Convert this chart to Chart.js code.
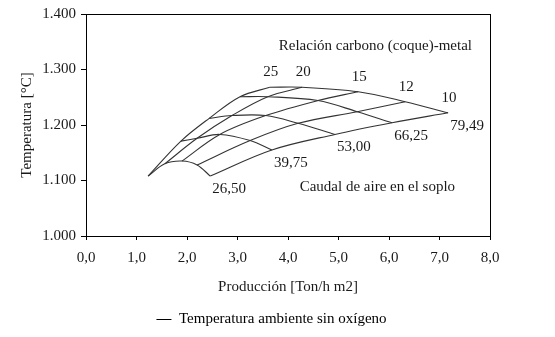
<!DOCTYPE html>
<html>
<head>
<meta charset="utf-8">
<script src="https://cdn.jsdelivr.net/npm/chart.js@4.4.1/dist/chart.umd.min.js"></script>
<style>
  body { margin: 0; background: #fff; }
  #wrap { width: 555px; height: 337px; }
</style>
</head>
<body>
<div id="wrap"><canvas id="carpetChart" width="555" height="337"></canvas></div>
<script>
// Relación carbono (coque)-metal, one curve per ratio
const ratioLabels = ['25', '20', '15', '12', '10'];
// Caudal de aire en el soplo, one node per air flow along each curve
const airLabels = ['26,50', '39,75', '53,00', '66,25', '79,49'];

// Producción [Ton/h m2] at each air flow
const prod25 = [1.23, 1.88, 2.44, 3.05, 3.64];
const prod20 = [1.56, 2.20, 2.89, 3.60, 4.28];
const prod15 = [1.90, 2.65, 3.56, 4.59, 5.39];
const prod12 = [2.20, 3.25, 4.20, 5.37, 6.32];
const prod10 = [2.46, 3.68, 4.93, 6.06, 7.17];

// Temperatura [°C] at each air flow
const temp25 = [1108, 1171, 1212, 1251, 1268];
const temp20 = [1130, 1176, 1217, 1251, 1268];
const temp15 = [1135, 1183, 1217, 1244, 1260];
const temp12 = [1128, 1172, 1203, 1224, 1242];
const temp10 = [1108, 1155, 1183, 1204, 1222];

const xTicks = [0, 1, 2, 3, 4, 5, 6, 7, 8];
const yTicks = [1000, 1100, 1200, 1300, 1400];

const legendText = 'Temperatura ambiente sin oxígeno';
const ratioTitle = 'Relación carbono (coque)-metal';
const airTitle = 'Caudal de aire en el soplo';

const prodRows = [prod25, prod20, prod15, prod12, prod10];
const tempRows = [temp25, temp20, temp15, temp12, temp10];

const LINE = '#333';
const TEXT = '#1a1a1a';
const FONT = '"Liberation Serif", "Times New Roman", serif';
const FONT_SIZE = 15;

// Build datasets: constant ratio curves, then constant air flow curves
const datasets = [];
ratioLabels.forEach((r, i) => {
    datasets.push({
        label: 'Relación ' + r,
        data: prodRows[i].map((p, j) => ({ x: p, y: tempRows[i][j] })),
        borderColor: LINE,
        borderWidth: 1.1,
        pointRadius: 0,
        tension: 0.35,
        fill: false
    });
});
airLabels.forEach((a, j) => {
    datasets.push({
        label: 'Caudal ' + a,
        data: prodRows.map((row, i) => ({ x: row[j], y: tempRows[i][j] })),
        borderColor: LINE,
        borderWidth: 1.1,
        pointRadius: 0,
        tension: 0.35,
        fill: false
    });
});

// top edge of the plot frame
const framePlugin = {
    id: 'frame',
    afterDraw(chart) {
        const { ctx, chartArea: a } = chart;
        ctx.save();
        ctx.strokeStyle = '#000';
        ctx.lineWidth = 1;
        ctx.beginPath();
        ctx.moveTo(a.left, a.top + 0.5);
        ctx.lineTo(a.right, a.top + 0.5);
        ctx.stroke();
        ctx.restore();
    }
};

// curve labels and titles inside the plot
const textPlugin = {
    id: 'carpetText',
    afterDatasetsDraw(chart) {
        const { ctx, scales: { x, y } } = chart;
        ctx.save();
        ctx.fillStyle = TEXT;
        ctx.font = FONT_SIZE + 'px ' + FONT;
        ctx.textAlign = 'center';
        ctx.textBaseline = 'middle';
        // ratio labels above the top edge (highest air flow)
        ratioLabels.forEach((r, i) => {
            ctx.fillText(r, x.getPixelForValue(prodRows[i][4]) + 1, y.getPixelForValue(tempRows[i][4]) - 15);
        });
        // air flow labels below the ratio 10 edge
        airLabels.forEach((a, j) => {
            ctx.fillText(a, x.getPixelForValue(prod10[j]) + 19, y.getPixelForValue(temp10[j]) + 13);
        });
        ctx.fillText(ratioTitle, x.getPixelForValue(5.73), y.getPixelForValue(1343));
        ctx.fillText(airTitle, x.getPixelForValue(5.77), y.getPixelForValue(1089));
        ctx.restore();
    }
};

const tickFont = { family: FONT, size: FONT_SIZE };

new Chart(document.getElementById('carpetChart').getContext('2d'), {
    type: 'line',
    data: { datasets: datasets },
    options: {
        responsive: false,
        animation: false,
        layout: { padding: { top: 13, right: 12, left: 0, bottom: 0 } },
        plugins: {
            legend: {
                position: 'bottom',
                labels: {
                    color: TEXT,
                    font: tickFont,
                    boxWidth: 15,
                    boxHeight: 1,
                    padding: 10,
                    generateLabels: () => [{
                        text: legendText,
                        fillStyle: '#000',
                        strokeStyle: '#000',
                        lineWidth: 0,
                        hidden: false,
                        datasetIndex: 0
                    }]
                },
                onClick: () => {}
            },
            tooltip: { enabled: false }
        },
        scales: {
            x: {
                type: 'linear',
                min: xTicks[0],
                max: xTicks[xTicks.length - 1],
                afterBuildTicks: s => { s.ticks = xTicks.map(v => ({ value: v })); },
                afterFit: s => { s.height = 66; },
                grid: { drawOnChartArea: false, drawTicks: true, tickLength: 4, color: '#000' },
                border: { color: '#000' },
                ticks: {
                    color: TEXT,
                    font: tickFont,
                    padding: 9,
                    maxRotation: 0,
                    callback: v => v.toFixed(1).replace('.', ',')
                },
                title: {
                    display: true,
                    text: 'Producción [Ton/h m2]',
                    color: TEXT,
                    font: tickFont,
                    padding: { top: 0, bottom: 6 }
                }
            },
            y: {
                min: yTicks[0],
                max: yTicks[yTicks.length - 1],
                afterBuildTicks: s => { s.ticks = yTicks.map(v => ({ value: v })); },
                afterFit: s => { s.width = 86; },
                grid: { drawOnChartArea: false, drawTicks: true, tickLength: 5, color: '#000' },
                border: { color: '#000' },
                ticks: {
                    color: TEXT,
                    font: tickFont,
                    padding: 5,
                    callback: v => String(v).replace(/\B(?=(\d{3})+(?!\d))/g, '.')
                },
                title: {
                    display: true,
                    text: 'Temperatura [°C]',
                    color: TEXT,
                    font: tickFont,
                    padding: { top: 18, bottom: 0 }
                }
            },
            // empty right axis: keeps the plot width and draws the right frame edge
            yRight: {
                position: 'right',
                min: yTicks[0],
                max: yTicks[yTicks.length - 1],
                afterFit: s => { s.width = 53; },
                grid: { drawOnChartArea: false, drawTicks: false },
                border: { color: '#000' },
                ticks: { display: false }
            }
        }
    },
    plugins: [framePlugin, textPlugin]
});
</script>
</body>
</html>
